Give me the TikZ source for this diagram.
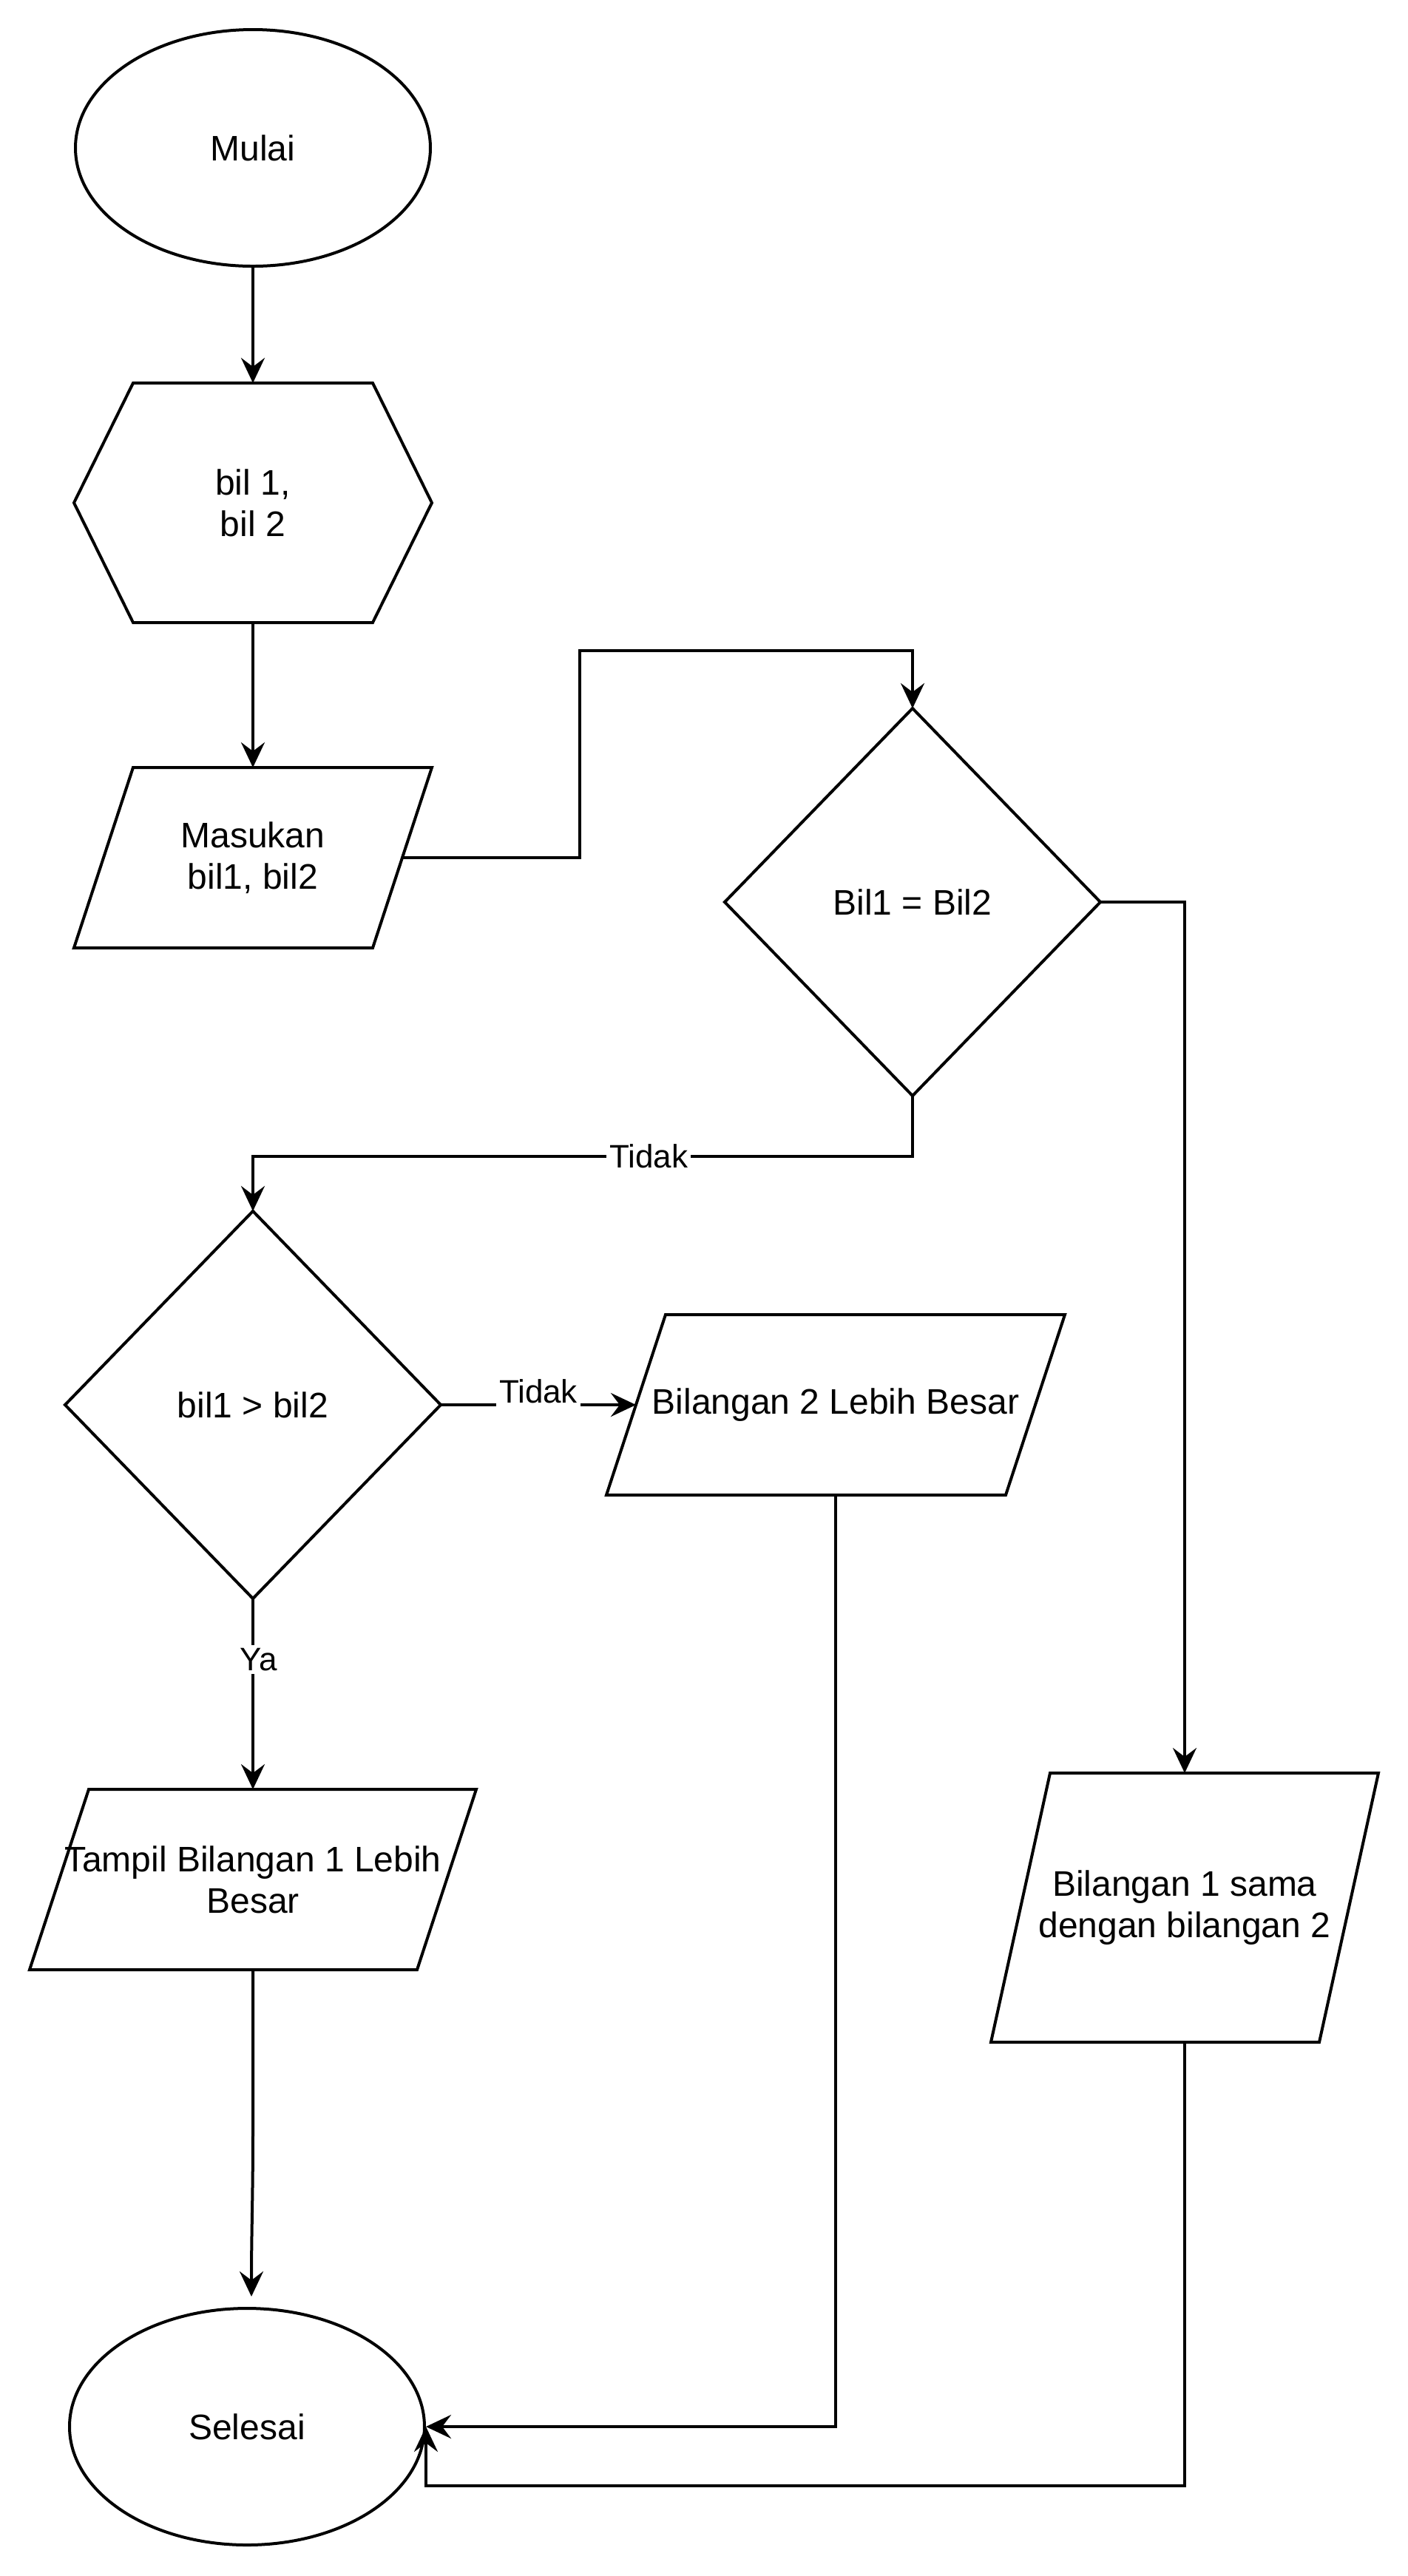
\documentclass[tikz,border=0pt]{standalone}
\usepackage{fontspec}
\setmainfont{Liberation Sans}
\usetikzlibrary{shapes.geometric,arrows.meta,calc}
\begin{document}
\begin{tikzpicture}[x=1pt,y=-1pt,line width=1pt,
  every node/.style={font=\fontsize{12}{14}\selectfont,align=center,inner sep=0pt},
  term/.style={ellipse,draw,minimum width=120pt,minimum height=80pt},
  frame/.style n args={2}{rectangle,minimum width=#1,minimum height=#2},
  lbl/.style={font=\fontsize{11}{13}\selectfont,fill=white,inner sep=1pt},
  arr/.style={-{Stealth[length=8.5pt,width=8pt,inset=3pt]}}]
\useasboundingbox (0,0) rectangle (476,871);

\node[term] (start) at (85.5,50) {Mulai};

\node[frame={120pt}{80pt}] (hex) at (85.5,170) {bil 1,\\bil 2};
\draw ([xshift=20pt]hex.north west) -- ([xshift=-20pt]hex.north east) -- (hex.east)
  -- ([xshift=-20pt]hex.south east) -- ([xshift=20pt]hex.south west) -- (hex.west) -- cycle;

\node[frame={120pt}{60pt}] (inp) at (85.5,290) {Masukan\\bil1, bil2};
\draw ([xshift=20pt]inp.north west) -- (inp.north east) -- ([xshift=-20pt]inp.south east)
  -- (inp.south west) -- cycle;

\node[frame={126pt}{130pt}] (d1) at (308.5,305) {Bil1 = Bil2};
\draw (d1.north) -- (d1.east) -- (d1.south) -- (d1.west) -- cycle;

\node[frame={126pt}{130pt}] (d2) at (85.5,475) {bil1 > bil2};
\draw (d2.north) -- (d2.east) -- (d2.south) -- (d2.west) -- cycle;

\node[frame={154pt}{60pt}] (p2) at (282.5,475) {Bilangan 2 Lebih Besar};
\draw ([xshift=20pt]p2.north west) -- (p2.north east) -- ([xshift=-20pt]p2.south east)
  -- (p2.south west) -- cycle;

\node[frame={150pt}{60pt}] (p1) at (85.5,635.5) {Tampil Bilangan 1 Lebih\\Besar};
\draw ([xshift=20pt]p1.north west) -- (p1.north east) -- ([xshift=-20pt]p1.south east)
  -- (p1.south west) -- cycle;

\node[frame={130pt}{90pt}] (p3) at (400.5,645) {Bilangan 1 sama\\dengan bilangan 2};
\draw ([xshift=20pt]p3.north west) -- (p3.north east) -- ([xshift=-20pt]p3.south east)
  -- (p3.south west) -- cycle;

\node[term] (end) at (83.5,820.5) {Selesai};

% connectors
\draw[arr] (start.south) -- (hex.north);
\draw[arr] (hex.south) -- (inp.north);
\draw[arr] ([xshift=-10pt]inp.east) -- ++(60,0) |- ($(d1.north)+(0,-19.5)$) -- (d1.north);
\draw[arr] (d1.south) -- ++(0,20.5) -| node[lbl,pos=0.2] {Tidak} (d2.north);
\draw[arr] (d1.east) -| (p3.north);
\draw[arr] (d2.east) -- node[lbl,yshift=4.5pt] {Tidak} ([xshift=10pt]p2.west);
\draw[arr] (d2.south) -- node[lbl,pos=0.32,xshift=2pt] {Ya} (p1.north);
\draw[arr] (p1.south) -- ++(0,55) to[out=-90,in=90] ([shift={(1.5,-3.5)}]end.north);
\draw[arr] (p2.south) |- (end.east);
\draw[arr] (p3.south) -- ++(0,150) -| (end.east);
\end{tikzpicture}
\end{document}
